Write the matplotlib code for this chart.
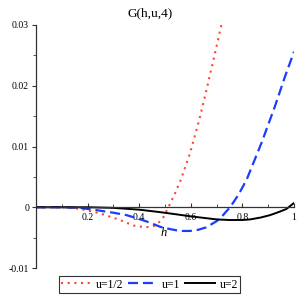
import matplotlib
matplotlib.use("Agg")
import matplotlib.pyplot as plt
from matplotlib.ticker import MultipleLocator, FixedLocator

plt.rcParams['font.family'] = ['Liberation Serif', 'DejaVu Serif']

# u = 1/2
x_half = [0, 0.1, 0.17, 0.248, 0.326, 0.377, 0.422, 0.45, 0.468, 0.493, 0.513, 0.537, 0.561, 0.597, 0.633, 0.664, 0.694, 0.72]
y_half = [0, 0, -0.00025, -0.0010, -0.0021, -0.0030, -0.0033, -0.0032, -0.0029, -0.0017, 0.0, 0.0021, 0.0045, 0.0089, 0.0144, 0.0199, 0.0254, 0.0303]

# u = 1
x_one = [0, 0.1, 0.17, 0.222, 0.3, 0.351, 0.39, 0.44, 0.48, 0.52, 0.558, 0.597, 0.63, 0.66, 0.7, 0.725, 0.752, 0.784, 0.817, 0.875, 0.926, 0.965, 1.0]
y_one = [0, 0, -0.0001, -0.0004, -0.0009, -0.0013, -0.0018, -0.0025, -0.0032, -0.0036, -0.0039, -0.0039, -0.0037, -0.0033, -0.0023, -0.0013, 0.0, 0.0020, 0.0046, 0.0107, 0.0166, 0.0215, 0.0256]

# u = 2
x_two = [0, 0.2, 0.3, 0.35, 0.4, 0.48, 0.55, 0.6, 0.7, 0.75, 0.8, 0.83, 0.87, 0.907, 0.94, 0.97, 1.0]
y_two = [0, 0, -0.0001, -0.00025, -0.0004, -0.0008, -0.0012, -0.0015, -0.0020, -0.0021, -0.0021, -0.0020, -0.0017, -0.0013, -0.0008, -0.0003, 0.0007]

fig = plt.figure(figsize=(3.01, 3.01), dpi=100)
ax = fig.add_axes([36/301, 33/301, 258/301, 243/301])

l1, = ax.plot(x_half, y_half, color='#ff4433', linestyle=(0, (1, 2.2)), lw=1.5,
              dash_capstyle='butt', label='u=1/2')
l2, = ax.plot(x_one, y_one, color='#1a3cff', linestyle=(0, (4.5, 2.2)), lw=1.6, label='u=1')
l3, = ax.plot(x_two, y_two, color='black', lw=1.4, label='u=2')

ax.set_xlim(0, 1)
ax.set_ylim(-0.01, 0.03)
ax.spines['top'].set_visible(False)
ax.spines['right'].set_visible(False)
ax.spines['bottom'].set_position(('data', 0))
ax.spines['left'].set_position(('data', 0))
for s in ['bottom', 'left']:
    ax.spines[s].set_color('#333333')
    ax.spines[s].set_linewidth(0.9)

ax.xaxis.set_major_locator(FixedLocator([0.2, 0.4, 0.6, 0.8, 1.0]))
ax.set_xticklabels(['0.2', '0.4', '0.6', '0.8', '1'])
ax.xaxis.set_minor_locator(MultipleLocator(0.1))
ax.yaxis.set_major_locator(FixedLocator([-0.01, 0, 0.01, 0.02, 0.03]))
ax.set_yticklabels(['-0.01', '0', '0.01', '0.02', '0.03'])
ax.yaxis.set_minor_locator(MultipleLocator(0.005))
ax.tick_params(axis='x', which='major', direction='in', length=3, labelsize=7, pad=4, color='#333333')
ax.tick_params(axis='x', which='minor', direction='in', length=2, color='#333333')
ax.tick_params(axis='y', which='major', direction='out', length=3, labelsize=7, pad=2, color='#333333')
ax.tick_params(axis='y', which='minor', direction='out', length=2, color='#333333')

fig.text(150.5/301, 1 - 13/301, 'G(h,u,4)', fontsize=9.5, ha='center', va='center')
ax.text(0.495, -0.0042, 'h', style='italic', fontsize=9, ha='center', va='center')

leg = fig.legend(handles=[l1, l2, l3], loc='center', bbox_to_anchor=(149.5/301, 1 - 284.5/301),
                 ncol=3, fontsize=8.5, frameon=True, fancybox=False, edgecolor='black',
                 handlelength=2.5, handletextpad=0.4, columnspacing=0.4, borderpad=0.2)
leg.get_frame().set_linewidth(0.8)

fig.savefig('out.png', dpi=100)
